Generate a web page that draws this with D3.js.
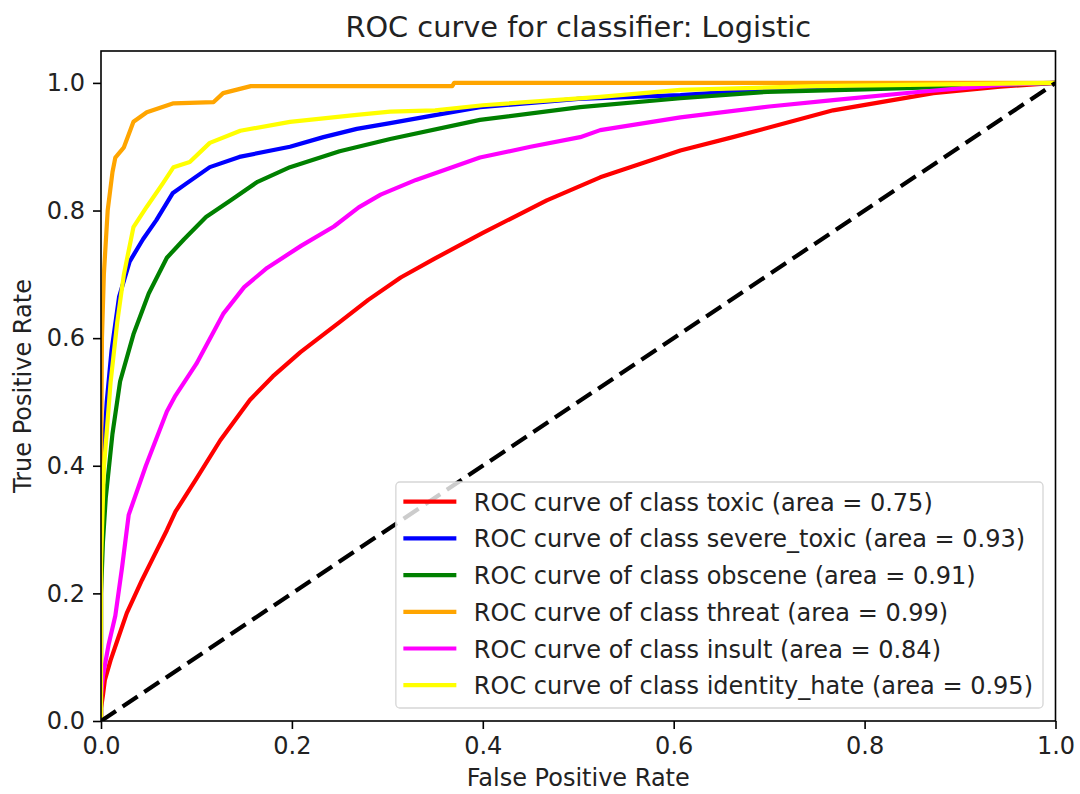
<!DOCTYPE html>
<html>
<head>
<meta charset="utf-8">
<script src="https://cdn.jsdelivr.net/npm/d3@7"></script>
<style>
  html, body { margin: 0; padding: 0; background: #fff; }
  svg { display: block; font-family: "DejaVu Sans", sans-serif; }
</style>
</head>
<body>
<div id="chart"></div>
<script>
const classNames = ['toxic', 'severe_toxic', 'obscene', 'threat', 'insult', 'identity_hate'];
const areas = [0.75, 0.93, 0.91, 0.99, 0.84, 0.95];
const colors = ['red', 'blue', 'green', 'orange', 'magenta', 'yellow'];
const xTicks = [0, 0.2, 0.4, 0.6, 0.8, 1.0];
const yTicks = [0, 0.2, 0.4, 0.6, 0.8, 1.0];

// [fpr, tpr] pairs
const toxic = [[0,0],[0,0.02],[0.002,0.04],[0.004,0.064],[0.01,0.095],[0.018,0.13],[0.027,0.169],[0.043,0.221],
  [0.057,0.263],[0.069,0.299],[0.078,0.328],[0.1,0.38],[0.125,0.44],[0.156,0.503],[0.18,0.54],[0.209,0.578],
  [0.25,0.625],[0.28,0.66],[0.314,0.695],[0.35,0.725],[0.4,0.765],[0.467,0.816],[0.523,0.852],[0.607,0.894],
  [0.662,0.915],[0.767,0.957],[0.872,0.984],[0.942,0.994],[1,1]];
const severeToxic = [[0,0],[0,0.3],[0.002,0.4],[0.006,0.5],[0.011,0.58],[0.019,0.665],[0.03,0.72],[0.044,0.755],
  [0.058,0.785],[0.075,0.827],[0.09,0.843],[0.114,0.868],[0.145,0.884],[0.198,0.9],[0.233,0.915],[0.268,0.928],
  [0.303,0.937],[0.397,0.962],[0.5,0.975],[0.607,0.981],[0.7,0.99],[0.85,0.996],[1,1]];
const obscene = [[0,0],[0,0.2],[0.002,0.28],[0.005,0.35],[0.012,0.45],[0.02,0.532],[0.034,0.606],[0.05,0.67],
  [0.069,0.726],[0.087,0.755],[0.11,0.79],[0.136,0.816],[0.164,0.845],[0.198,0.868],[0.25,0.893],[0.303,0.912],
  [0.397,0.942],[0.502,0.962],[0.607,0.976],[0.698,0.986],[0.8,0.99],[0.933,0.996],[1,1]];
const threat = [[0,0],[0,0.4],[0.001,0.6],[0.003,0.7],[0.007,0.8],[0.012,0.86],[0.015,0.883],[0.024,0.899],
  [0.034,0.939],[0.048,0.954],[0.076,0.968],[0.118,0.970],[0.128,0.984],[0.157,0.995],[0.368,0.995],
  [0.37,1.0],[1,1]];
const insult = [[0,0],[0,0.04],[0.002,0.07],[0.008,0.12],[0.015,0.165],[0.022,0.24],[0.029,0.323],[0.047,0.40],
  [0.069,0.485],[0.078,0.51],[0.1,0.56],[0.128,0.638],[0.15,0.68],[0.174,0.71],[0.21,0.745],[0.244,0.775],
  [0.27,0.805],[0.293,0.825],[0.33,0.848],[0.397,0.883],[0.45,0.9],[0.502,0.915],[0.523,0.926],[0.607,0.946],
  [0.7,0.963],[0.767,0.973],[0.85,0.985],[0.942,0.997],[1,1]];
const identityHate = [[0,0],[0,0.25],[0.003,0.395],[0.01,0.53],[0.017,0.625],[0.024,0.7],[0.034,0.774],
  [0.048,0.806],[0.065,0.843],[0.076,0.868],[0.093,0.876],[0.114,0.906],[0.146,0.925],[0.198,0.939],
  [0.268,0.95],[0.303,0.955],[0.35,0.957],[0.4,0.965],[0.523,0.978],[0.607,0.989],[0.75,0.995],[1,1]];
const curves = [toxic, severeToxic, obscene, threat, insult, identityHate];
const chance = [[0,0],[1,1]];

const W = 1080, H = 794;
const margin = { top: 51, right: 24.5, bottom: 73, left: 101 };
const width = W - margin.left - margin.right;
const height = H - margin.top - margin.bottom;
const lw = 4.2;

const svg = d3.select('#chart').append('svg')
  .attr('width', W).attr('height', H);
const g = svg.append('g')
  .attr('transform', `translate(${margin.left},${margin.top})`);

const x = d3.scaleLinear().domain([0, 1]).range([0, width]);
const y = d3.scaleLinear().domain([0, 1.05]).range([height, 0]);

g.append('defs').append('clipPath').attr('id', 'clip')
  .append('rect').attr('width', width).attr('height', height);

const line = d3.line().x(d => x(d[0])).y(d => y(d[1]));

const plot = g.append('g').attr('clip-path', 'url(#clip)');
curves.forEach((c, i) => {
  plot.append('path')
    .datum(c)
    .attr('fill', 'none')
    .attr('stroke', colors[i])
    .attr('stroke-width', lw)
    .attr('stroke-linejoin', 'round')
    .attr('d', line);
});
plot.append('path')
  .datum(chance)
  .attr('fill', 'none')
  .attr('stroke', 'black')
  .attr('stroke-width', lw)
  .attr('stroke-dasharray', '18,8')
  .attr('d', line);

// axes
const xAxis = g.append('g').attr('transform', `translate(0,${height})`)
  .call(d3.axisBottom(x).tickValues(xTicks).tickFormat(d3.format('.1f')).tickSize(8).tickPadding(8));
const yAxis = g.append('g')
  .call(d3.axisLeft(y).tickValues(yTicks).tickFormat(d3.format('.1f')).tickSize(8).tickPadding(8));
[xAxis, yAxis].forEach(a => {
  a.select('.domain').remove();
  a.selectAll('line').attr('stroke', '#000').attr('stroke-width', 1.6);
  a.selectAll('text').attr('font-size', 24).attr('fill', '#222')
    .attr('font-family', '"DejaVu Sans", sans-serif');
});
g.append('rect')
  .attr('width', width).attr('height', height)
  .attr('fill', 'none').attr('stroke', '#000').attr('stroke-width', 1.6);

// titles
svg.append('text')
  .attr('x', margin.left + width / 2).attr('y', 37)
  .attr('text-anchor', 'middle').attr('font-size', 28.8).attr('fill', '#222')
  .text('ROC curve for classifier: Logistic');
svg.append('text')
  .attr('x', margin.left + width / 2).attr('y', 786)
  .attr('text-anchor', 'middle').attr('font-size', 24).attr('fill', '#222')
  .text('False Positive Rate');
svg.append('text')
  .attr('transform', `translate(31,${margin.top + height / 2}) rotate(-90)`)
  .attr('text-anchor', 'middle').attr('font-size', 24).attr('fill', '#222')
  .text('True Positive Rate');

// legend (lower right)
const rowH = 36.7;
const legend = g.append('g');
const box = legend.append('rect')
  .attr('rx', 4).attr('ry', 4)
  .attr('fill', 'rgba(255,255,255,0.8)')
  .attr('stroke', '#d6d6d6').attr('stroke-width', 1.3);
const rows = legend.selectAll('g.row').data(classNames).join('g')
  .attr('class', 'row')
  .attr('transform', (d, i) => `translate(0,${i * rowH})`);
rows.append('line')
  .attr('x1', 7.5).attr('x2', 60.5).attr('y1', 0).attr('y2', 0)
  .attr('stroke', (d, i) => colors[i]).attr('stroke-width', lw);
rows.append('text')
  .attr('x', 78).attr('y', 9)
  .attr('font-size', 24).attr('fill', '#222')
  .text((d, i) => `ROC curve of class ${d} (area = ${areas[i].toFixed(2)})`);
let maxW = 0;
rows.selectAll('text').each(function() { maxW = Math.max(maxW, this.getComputedTextLength()); });
const boxW = 78 + maxW + 10;
const boxH = 226;
box.attr('x', 0).attr('y', -19.7).attr('width', boxW).attr('height', boxH);
legend.attr('transform', `translate(${width - 12.5 - boxW},${height - 13 - boxH + 19.7})`);
</script>
</body>
</html>
